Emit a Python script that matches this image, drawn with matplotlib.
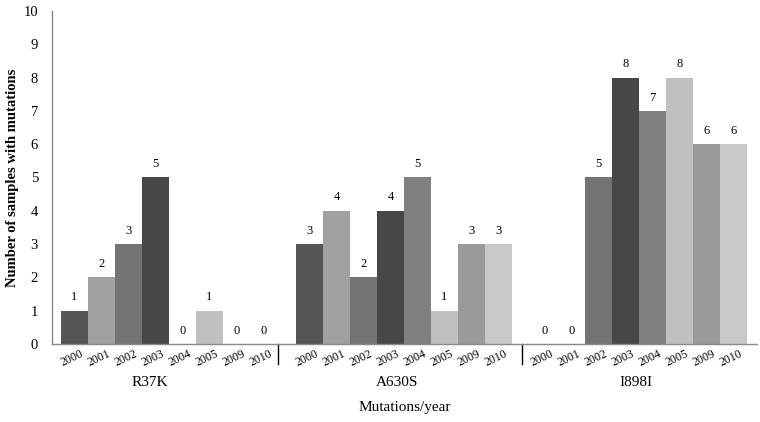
import matplotlib
matplotlib.use("Agg")
from matplotlib import pyplot as plt
from matplotlib import transforms

plt.rcParams['font.family'] = ['Liberation Serif', 'DejaVu Serif']

# Data
mutations = ["R37K", "A630S", "I898I"]
years = ["2000", "2001", "2002", "2003", "2004", "2005", "2009", "2010"]
r37k = [1, 2, 3, 5, 0, 1, 0, 0]
a630s = [3, 4, 2, 4, 5, 1, 3, 3]
i898i = [0, 0, 5, 8, 7, 8, 6, 6]
values = [r37k, a630s, i898i]

# One grey shade per year, as in the original
yearColors = ["#555555", "#a0a0a0", "#737373", "#474747",
              "#808080", "#c0c0c0", "#9a9a9a", "#c8c8c8"]

GROUP_STEP = 8.704  # spacing between group starts, in bar widths

fig = plt.figure(figsize=(7.6, 4.22), dpi=100)
ax = fig.add_axes([0.0684, 0.1848, 0.9276, 0.7892])

for g, series in enumerate(values):
	start = g * GROUP_STEP
	for i, v in enumerate(series):
		x = start + i + 0.5
		ax.bar(x, v, width=1.0, color=yearColors[i], linewidth=0)
		ax.text(x, v + 0.22, str(v), ha='center', va='bottom', fontsize=9)
		# year label under each bar
		ax.annotate(years[i], xy=(x, 0), xytext=(-2, -3), textcoords='offset points',
			ha='center', va='top', rotation=25, fontsize=8.5)

ax.set_xlim(-0.333, 25.78)
ax.set_ylim(0, 10)
ax.set_yticks(range(0, 11))
ax.tick_params(axis='y', length=0, pad=10, labelsize=10.5)
ax.set_xticks([])

for side in ['top', 'right']:
	ax.spines[side].set_visible(False)
for side in ['left', 'bottom']:
	ax.spines[side].set_color('#888888')
	ax.spines[side].set_linewidth(1.0)

# separator marks between the groups, below the axis
trans = transforms.blended_transform_factory(ax.transData, ax.transAxes)
for sx in [8.03, 17.06]:
	ax.plot([sx, sx], [0, -0.06], color='black', linewidth=1.0,
		transform=trans, clip_on=False)

# mutation names under each group
labelShift = [-0.7, -0.25, -0.1]
for g, name in enumerate(mutations):
	cx = g * GROUP_STEP + 4 + labelShift[g]
	ax.text(cx, -0.117, name, transform=trans, ha='center', va='center', fontsize=11)

ax.text(0.5, -0.19, "Mutations/year", transform=ax.transAxes,
	ha='center', va='center', fontsize=11)
ax.set_ylabel("Number of samples with mutations", fontsize=10.5,
	fontweight='bold', labelpad=3)

fig.savefig("out.png", dpi=100)
